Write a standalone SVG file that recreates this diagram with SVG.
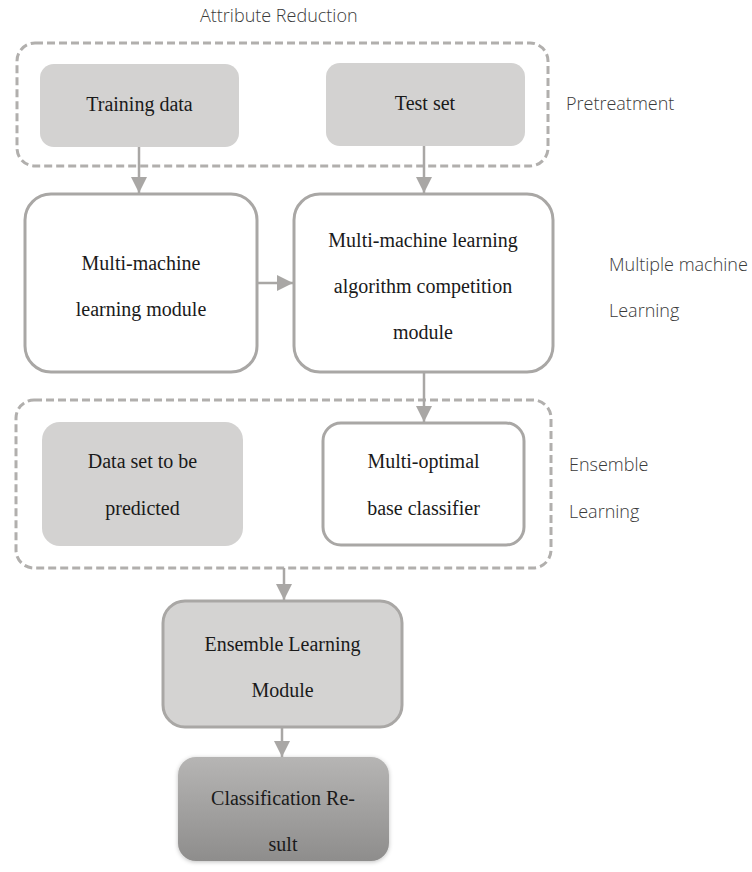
<svg xmlns="http://www.w3.org/2000/svg" width="752" height="872" viewBox="0 0 752 872">
<style>
.bg{fill:#ffffff}
.dash{fill:none;stroke:#b1afad;stroke-width:3;stroke-dasharray:8 4}
.gray{fill:#d3d2d1;stroke:none}
.white{fill:#ffffff;stroke:#a9a7a5;stroke-width:3}
.grayb{fill:#d4d3d2;stroke:#a9a7a5;stroke-width:3}
.t{font-family:"Liberation Serif","Times New Roman",serif;font-size:20px;fill:#1a1a1a;text-anchor:middle}
.lab{font-family:"Open Sans","Noto Sans",sans-serif;font-weight:300;font-size:18px;fill:#3a3a3a}
.conn{stroke:#a9a7a5;stroke-width:2.5;fill:none}
</style>
<defs>
<marker id="ah" markerWidth="16" markerHeight="16" refX="16" refY="8" orient="auto" markerUnits="userSpaceOnUse">
<path d="M0,0 L16,8 L0,16 Z" fill="#a9a7a5"/>
</marker>
<linearGradient id="cg" x1="0" y1="0" x2="0" y2="1">
<stop offset="0" stop-color="#b6b5b4"/>
<stop offset="1" stop-color="#8e8d8c"/>
</linearGradient>
<filter id="sh" x="-10%" y="-10%" width="120%" height="125%">
<feGaussianBlur in="SourceAlpha" stdDeviation="2"/>
<feOffset dy="1" result="b"/>
<feFlood flood-color="#000" flood-opacity="0.25"/>
<feComposite in2="b" operator="in"/>
<feMerge><feMergeNode/><feMergeNode in="SourceGraphic"/></feMerge>
</filter>
</defs>
<rect class="bg" x="0" y="0" width="752" height="872"/>

<g id="labels">
<text class="lab" x="200" y="22">Attribute Reduction</text>
<text class="lab" x="566" y="110">Pretreatment</text>
<text class="lab" x="609" y="271">Multiple machine</text>
<text class="lab" x="609" y="317">Learning</text>
<text class="lab" x="569" y="471">Ensemble</text>
<text class="lab" x="569" y="518">Learning</text>
</g>

<g id="pretreatment-group">
<rect class="dash" x="17" y="43" width="531" height="123" rx="18"/>
</g>
<g id="ensemble-group">
<rect class="dash" x="16" y="400" width="535" height="168" rx="18"/>
</g>

<g id="training-data">
<rect class="gray" x="40" y="64" width="199" height="83" rx="14"/>
<text class="t" x="139.5" y="111">Training data</text>
</g>
<g id="test-set">
<rect class="gray" x="326" y="63" width="199" height="83" rx="14"/>
<text class="t" x="425" y="110">Test set</text>
</g>

<g id="mml-module">
<rect class="white" x="25" y="194" width="232" height="178" rx="26"/>
<text class="t" x="141" y="270">Multi-machine</text>
<text class="t" x="141" y="316">learning module</text>
</g>
<g id="competition-module">
<rect class="white" x="294" y="194" width="259" height="178" rx="26"/>
<text class="t" x="423" y="247">Multi-machine learning</text>
<text class="t" x="423" y="293">algorithm competition</text>
<text class="t" x="423" y="339">module</text>
</g>

<g id="data-to-predict">
<rect class="gray" x="42" y="422" width="201" height="124" rx="18"/>
<text class="t" x="142.5" y="468">Data set to be</text>
<text class="t" x="142.5" y="515">predicted</text>
</g>
<g id="multi-optimal">
<rect class="white" x="323" y="423" width="201" height="122" rx="18"/>
<text class="t" x="423.5" y="468">Multi-optimal</text>
<text class="t" x="423.5" y="515">base classifier</text>
</g>

<g id="ensemble-module">
<rect class="grayb" x="163" y="601" width="239" height="126" rx="22"/>
<text class="t" x="282.5" y="651">Ensemble Learning</text>
<text class="t" x="282.5" y="697">Module</text>
</g>

<g id="classification-result">
<rect x="178" y="757" width="211" height="104" rx="18" fill="url(#cg)" filter="url(#sh)"/>
<text class="t" x="283" y="805">Classification Re-</text>
<text class="t" x="283" y="851">sult</text>
</g>

<g id="connectors">
<line class="conn" x1="139" y1="147" x2="139" y2="193" marker-end="url(#ah)"/>
<line class="conn" x1="424" y1="146" x2="424" y2="193" marker-end="url(#ah)"/>
<line class="conn" x1="257" y1="283" x2="293" y2="283" marker-end="url(#ah)"/>
<line class="conn" x1="424" y1="373" x2="424" y2="422" marker-end="url(#ah)"/>
<line class="conn" x1="284" y1="568" x2="284" y2="600" marker-end="url(#ah)"/>
<line class="conn" x1="282" y1="728" x2="282" y2="757" marker-end="url(#ah)"/>
</g>
</svg>
